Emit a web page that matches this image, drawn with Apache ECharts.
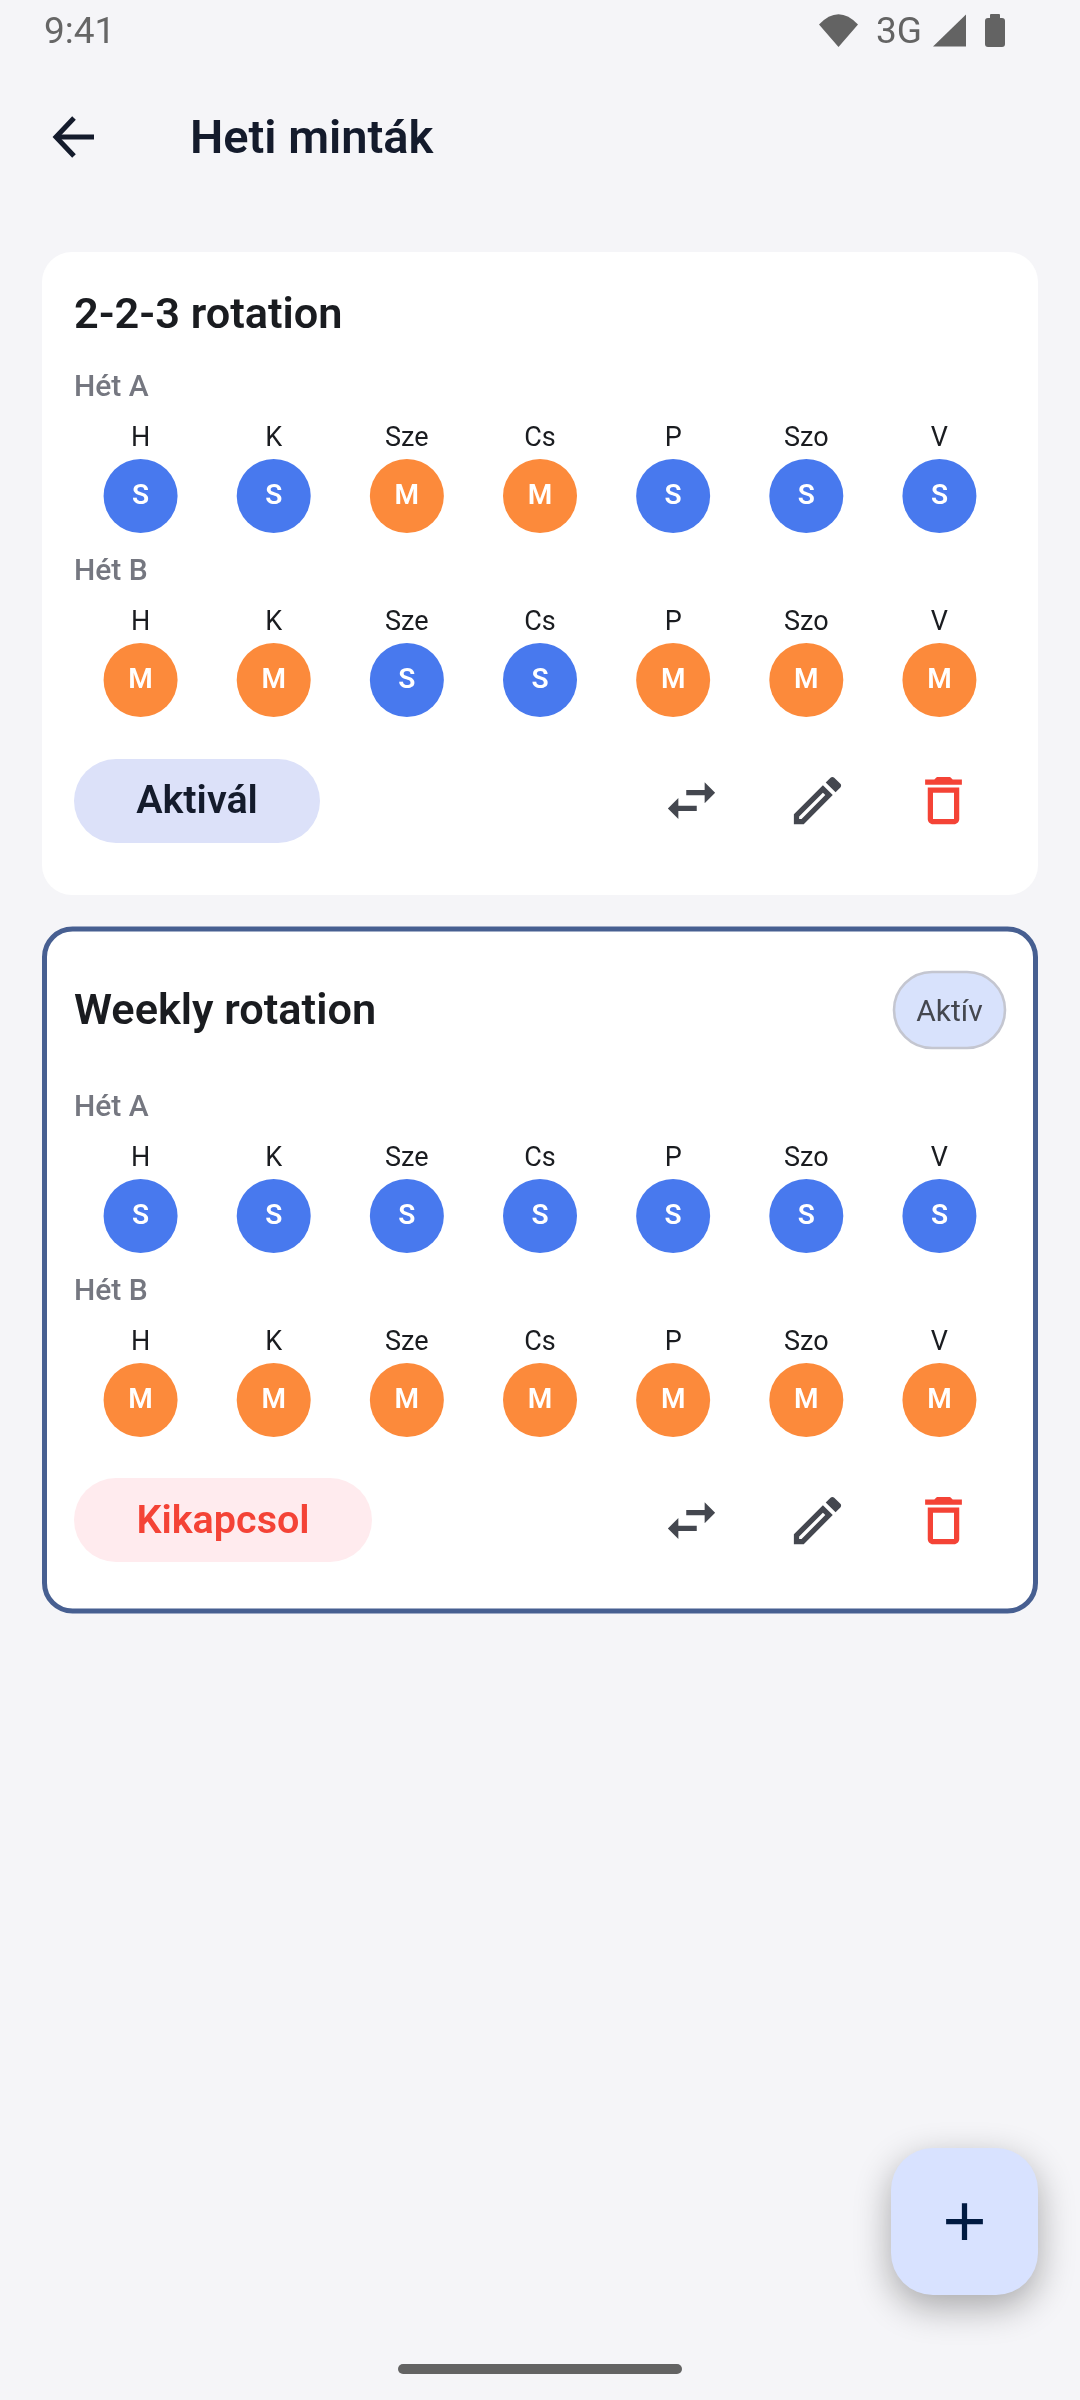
<!DOCTYPE html>
<html>
<head>
    <meta charset="UTF-8">
    <title>Heti minták</title>
    <style>
        html, body { margin: 0; padding: 0; background: #F5F5F8; }
    </style>
</head>
<body>
    <div id="main" style="width: 1080px;height:2400px;"></div>
    <script src="https://cdn.jsdelivr.net/npm/echarts@6/dist/echarts.min.js"></script>
    <script type="text/javascript">
        // adatok
        const days = ['H', 'K', 'Sze', 'Cs', 'P', 'Szo', 'V'];
        const rot223WeekA = ['S', 'S', 'M', 'M', 'S', 'S', 'S'];
        const rot223WeekB = ['M', 'M', 'S', 'S', 'M', 'M', 'M'];
        const weeklyWeekA = ['S', 'S', 'S', 'S', 'S', 'S', 'S'];
        const weeklyWeekB = ['M', 'M', 'M', 'M', 'M', 'M', 'M'];
        const shiftColors = { S: '#4879EE', M: '#FC8A3B' };

        const rows = [
            { shifts: rot223WeekA, y: 496 },
            { shifts: rot223WeekB, y: 680 },
            { shifts: weeklyWeekA, y: 1216 },
            { shifts: weeklyWeekB, y: 1400 }
        ];

        const FONT = 'Roboto';
        const ICON = 2.625;

        // a graphic komponens nem ismer nyers path-t, ezért regisztrálva
        function regIcon(name, d) {
            echarts.graphic.registerShape(name, echarts.graphic.extendPath(d, {}));
        }
        regIcon('iconSwap', 'M6.99 11L3 15l3.99 4v-3H14v-2H6.99v-3zM21 9l-3.99-4v3H10v2h7.01v3L21 9z');
        regIcon('iconEdit', 'M14.06 9.02l.92.92L5.92 19H5v-.92l9.06-9.06M17.66 3c-.25 0-.51.1-.7.29l-1.83 1.83 3.75 3.75 1.83-1.83c.39-.39.39-1.02 0-1.41l-2.34-2.34c-.2-.2-.45-.29-.71-.29zm-3.6 3.19L3 17.25V21h3.75L17.81 9.94l-3.75-3.75z');
        regIcon('iconTrash', 'M16 9v10H8V9h8m-1.5-6h-5l-1 1H5v2h14V4h-3.5l-1-1zM18 7H6v12c0 1.1.9 2 2 2h8c1.1 0 2-.9 2-2V7z');
        regIcon('iconPlus', 'M19 13h-6v6h-2v-6H5v-2h6V5h2v6h6v2z');
        regIcon('iconWifi', 'M838.5 47L819 24.5Q838.5 4 858 24.5Z');

        // y = alapvonal; a 'middle' igazításhoz a betűmérettel korrigálva
        function text(str, x, y, size, weight, color, align) {
            return {
                type: 'text', x: x, y: y - size * 0.25, silent: true,
                style: {
                    text: str, fill: color, fontFamily: FONT, fontSize: size, fontWeight: weight,
                    textAlign: align || 'left', textVerticalAlign: 'middle'
                }
            };
        }
        function rect(x, y, w, h, r, fill, extra) {
            return {
                type: 'rect', silent: true,
                shape: { x: x, y: y, width: w, height: h, r: r },
                style: Object.assign({ fill: fill }, extra || {})
            };
        }
        function icon(name, x, y, color) {
            return {
                type: name, x: x, y: y, scaleX: ICON, scaleY: ICON, silent: true,
                style: { fill: color }
            };
        }
        function actionIcons(y) {
            return [
                icon('iconSwap', 660, y, '#44474F'),
                icon('iconEdit', 786, y, '#44474F'),
                icon('iconTrash', 912, y, '#F44336')
            ];
        }

        const graphics = [
            // status bar
            text('9:41', 44, 43, 37, 400, '#666666'),
            { type: 'iconWifi', silent: true, style: { fill: '#636363' } },
            text('3G', 876, 43, 37, 400, '#636363'),
            {
                type: 'polygon', silent: true,
                shape: { points: [[933, 46.5], [966, 14.5], [966, 46.5]] },
                style: { fill: '#636363' }
            },
            rect(985, 18, 20, 29, 3, '#636363'),
            rect(990, 14, 10, 6, 1, '#636363'),
            // app bar
            {
                type: 'polyline', silent: true,
                shape: { points: [[74, 118], [56, 137], [74, 156]] },
                style: { stroke: '#141B2C', lineWidth: 5, fill: null }
            },
            {
                type: 'line', silent: true,
                shape: { x1: 57, y1: 137, x2: 94, y2: 137 },
                style: { stroke: '#141B2C', lineWidth: 5 }
            },
            text('Heti minták', 190, 153, 47, 600, '#141B2C'),
            // 1. kártya
            rect(42, 252, 996, 643, 30, '#FFFFFF'),
            text('2-2-3 rotation', 74, 328, 43.3, 600, '#1A1C20'),
            text('Hét A', 74, 396, 30, 500, '#757780'),
            text('Hét B', 74, 580, 30, 500, '#757780'),
            rect(74, 759, 246, 84, 42, '#DCE1F9'),
            text('Aktivál', 197, 813, 39.5, 600, '#141B2C', 'center')
        ].concat(actionIcons(769), [
            // 2. kártya
            rect(44.5, 929, 991, 682, 28, '#FFFFFF', { stroke: '#475F91', lineWidth: 5 }),
            text('Weekly rotation', 74, 1024, 43.3, 600, '#1A1C20'),
            rect(894, 972, 111, 76, 38, '#D8E2FC', { stroke: '#C4C6D0', lineWidth: 2.6 }),
            text('Aktív', 949.5, 1021, 30, 400, '#44474F', 'center'),
            text('Hét A', 74, 1116, 30, 500, '#757780'),
            text('Hét B', 74, 1300, 30, 500, '#757780'),
            rect(74, 1478, 298, 84, 42, '#FFEBEE'),
            text('Kikapcsol', 223, 1533, 39.5, 600, '#F44336', 'center')
        ], actionIcons(1489), [
            // FAB
            rect(891, 2148, 147, 147, 42, '#D8E2FF', {
                shadowBlur: 36, shadowOffsetY: 12, shadowColor: 'rgba(0,0,0,0.32)'
            }),
            icon('iconPlus', 933, 2190, '#001A41'),
            // home indicator
            rect(398, 2364, 284, 10, 5, '#636363')
        ]);

        var myChart = echarts.init(document.getElementById('main'), null, { renderer: 'canvas' });

        let option = {
            backgroundColor: '#F5F5F8',
            animation: false,
            tooltip: { show: false },
            graphic: { elements: graphics },
            grid: rows.map(function (r) {
                return { left: 74, width: 932, top: r.y - 37, height: 74 };
            }),
            xAxis: rows.map(function (r, i) {
                return {
                    type: 'category', gridIndex: i, position: 'top', data: days,
                    axisLine: { show: false }, axisTick: { show: false }, splitLine: { show: false },
                    axisLabel: {
                        show: true, interval: 0, margin: 6, color: '#1A1C20',
                        fontFamily: FONT, fontSize: 27, fontWeight: 400
                    }
                };
            }),
            yAxis: rows.map(function (r, i) {
                return { type: 'category', gridIndex: i, data: ['hét'], show: false };
            }),
            series: rows.map(function (r, i) {
                return {
                    type: 'scatter', xAxisIndex: i, yAxisIndex: i, symbol: 'circle', symbolSize: 74,
                    silent: true,
                    data: r.shifts.map(function (s, d) {
                        return { value: [d, 0], name: s, itemStyle: { color: shiftColors[s], opacity: 1 } };
                    }),
                    label: {
                        show: true, position: 'inside', offset: [0, 1], formatter: '{b}', color: '#FFFFFF',
                        fontFamily: FONT, fontSize: 28, fontWeight: 600
                    }
                };
            })
        };

        myChart.setOption(option);
    </script>
</body>
</html>
